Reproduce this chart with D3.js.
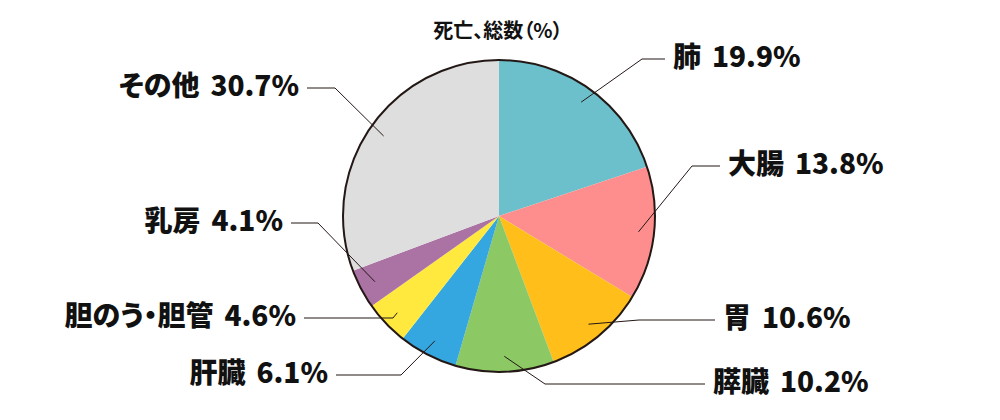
<!DOCTYPE html>
<html>
<head>
<meta charset="utf-8">
<script src="https://cdn.jsdelivr.net/npm/d3@7"></script>
<style>
  body { margin: 0; background: #fff; }
  svg { display: block; font-family: "Noto Sans CJK JP", sans-serif; }
  text { font-feature-settings: "palt"; }
</style>
</head>
<body>
<svg id="chart" width="1000" height="420"></svg>
<script>
// data, clockwise from 12 o'clock
const names = ["肺", "大腸", "胃", "膵臓", "肝臓", "胆のう・胆管", "乳房", "その他"];
const values = [19.9, 13.8, 10.6, 10.2, 6.1, 4.6, 4.1, 30.7];
const colors = ["#6cc0cb", "#fe8e8e", "#ffbe19", "#8cc863", "#35a7e0", "#ffe93f", "#ab72a4", "#dedede"];
const title = "死亡、総数（%）";

// where each leader line bends and where its label sits (hand placed like the original)
const elbowX = [642, 692, 639, 545, 401, 393, 318, 335];
const lineY = [59, 166, 320, 384, 375, 318, 223, 88];
const endX = [665, 720, 715, 705, 336, 304, 291, 307];

const svg = d3.select("#chart");
const cx = 499, cy = 216, r = 156;

const data = names.map((n, i) => ({name: n, value: values[i], color: colors[i], i: i}));

const pie = d3.pie().value(d => d.value).sort(null);
const arc = d3.arc().innerRadius(0).outerRadius(r);
const arcs = pie(data);

const g = svg.append("g").attr("transform", `translate(${cx},${cy})`);

g.selectAll(".slice")
    .data(arcs)
    .enter()
    .append("path")
    .attr("class", "slice")
    .attr("d", arc)
    .style("fill", d => d.data.color);

g.append("circle")
    .attr("r", r)
    .style("fill", "none")
    .style("stroke", "#231815")
    .style("stroke-width", 2);

// leader lines, starting just inside the rim at the slice middle
svg.selectAll(".leader")
    .data(arcs)
    .enter()
    .append("polyline")
    .attr("class", "leader")
    .attr("points", d => {
        const a = (d.startAngle + d.endAngle) / 2;
        const p = [cx + Math.sin(a) * r * 0.9, cy - Math.cos(a) * r * 0.9];
        const i = d.data.i;
        return [p, [elbowX[i], lineY[i]], [endX[i], lineY[i]]].map(q => q.join(",")).join(" ");
    })
    .style("fill", "none")
    .style("stroke", "#231815")
    .style("stroke-width", 1);

// labels
const lab = svg.selectAll(".label")
    .data(arcs)
    .enter()
    .append("text")
    .attr("class", "label")
    .attr("x", d => {
        const i = d.data.i;
        return endX[i] > elbowX[i] ? endX[i] + 8 : endX[i] - 8;
    })
    .attr("y", d => lineY[d.data.i] + 8)
    .attr("text-anchor", d => endX[d.data.i] > elbowX[d.data.i] ? "start" : "end")
    .style("font-size", "28px")
    .style("font-weight", 900)
    .style("fill", "#111");

lab.append("tspan").text(d => d.data.name);
lab.append("tspan").attr("dx", 11).text(d => d3.format(".1f")(d.data.value) + "%");

svg.append("text")
    .attr("x", cx - 1)
    .attr("y", 38)
    .attr("text-anchor", "middle")
    .style("font-size", "20px")
    .style("font-weight", 700)
    .style("fill", "#111")
    .text(title);
</script>
</body>
</html>
